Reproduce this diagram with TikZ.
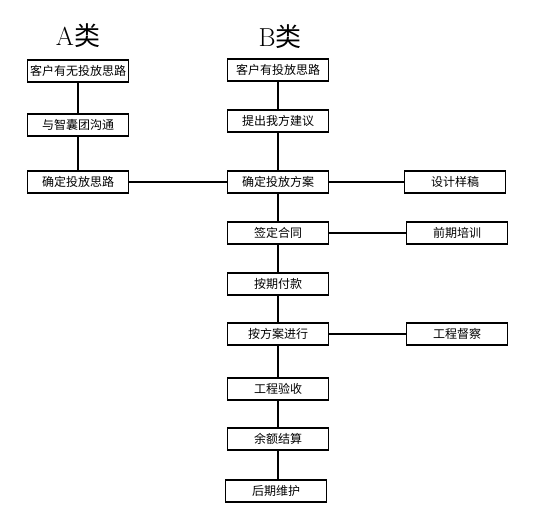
\documentclass[tikz,border=0pt]{standalone}
\usepackage{fontspec}
\usepackage{tikz}
\newfontfamily\cjk{Noto Sans CJK SC}

\tikzset{
  stage/.style={rectangle, draw=black, line width=1.5pt, fill=white, minimum width=101pt, minimum height=22pt, inner sep=0pt, font=\cjk\fontsize{12}{12}\selectfont},
  link/.style={line width=1.5pt},
  kind/.style={inner sep=0pt, font=\fontsize{26}{26}\selectfont}
}

\begin{document}
\begin{tikzpicture}[x=1pt, y=-1pt]
    \useasboundingbox (0,0) rectangle (535,525);

    \node[kind] (ta) at (78,36) {A{\cjk 类}};
    \node[kind] (tb) at (280,37) {B{\cjk 类}};

    \node[stage] (a1) at (78,71) {客户有无投放思路};
    \node[stage] (a2) at (78,125) {与智囊团沟通};
    \node[stage] (a3) at (78,182) {确定投放思路};

    \node[stage] (b1) at (278,70) {客户有投放思路};
    \node[stage] (b2) at (278,121) {提出我方建议};
    \node[stage] (b3) at (278,182) {确定投放方案};
    \node[stage] (b4) at (278,233) {签定合同};
    \node[stage] (b5) at (278,284) {按期付款};
    \node[stage] (b6) at (278,334) {按方案进行};
    \node[stage] (b7) at (278,389) {工程验收};
    \node[stage] (b8) at (278,439) {余额结算};
    \node[stage] (b9) at (276,491) {后期维护};

    \node[stage] (r1) at (455,182) {设计样稿};
    \node[stage] (r2) at (457,233) {前期培训};
    \node[stage] (r3) at (457,334) {工程督察};

    \draw[link] (a1) -- (a2);
    \draw[link] (a2) -- (a3);
    \draw[link] (a3) -- (b3);
    \draw[link] (b1) -- (b2);
    \draw[link] (b2) -- (b3);
    \draw[link] (b3) -- (b4);
    \draw[link] (b4) -- (b5);
    \draw[link] (b5) -- (b6);
    \draw[link] (b6) -- (b7);
    \draw[link] (b7) -- (b8);
    \draw[link] (b8) -- (b8 |- b9.north);
    \draw[link] (b3) -- (r1);
    \draw[link] (b4) -- (r2);
    \draw[link] (b6) -- (r3);
\end{tikzpicture}
\end{document}
